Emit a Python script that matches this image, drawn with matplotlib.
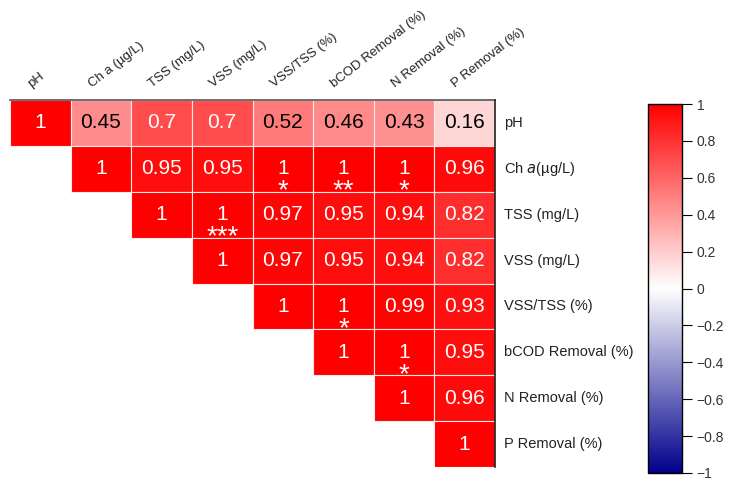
import numpy as np
import matplotlib.pyplot as plt
from matplotlib.colors import LinearSegmentedColormap, Normalize
from matplotlib.patches import Rectangle
import matplotlib.cm as cm

plt.rcParams['font.family'] = ['Liberation Sans', 'DejaVu Sans']

labels = ['pH', 'Ch a (µg/L)', 'TSS (mg/L)', 'VSS (mg/L)', 'VSS/TSS (%)',
          'bCOD Removal (%)', 'N Removal (%)', 'P Removal (%)']
row_labels = ['pH', r'Ch $\it{a}$(µg/L)', 'TSS (mg/L)', 'VSS (mg/L)', 'VSS/TSS (%)',
              'bCOD Removal (%)', 'N Removal (%)', 'P Removal (%)']

# upper triangle, row by row (starting at the diagonal)
r_ph = [1, 0.45, 0.7, 0.7, 0.52, 0.46, 0.43, 0.16]
r_cha = [1, 0.95, 0.95, 1, 1, 1, 0.96]
r_tss = [1, 1, 0.97, 0.95, 0.94, 0.82]
r_vss = [1, 0.97, 0.95, 0.94, 0.82]
r_ratio = [1, 1, 0.99, 0.93]
r_bcod = [1, 1, 0.95]
r_n = [1, 0.96]
r_p = [1]
rows = [r_ph, r_cha, r_tss, r_vss, r_ratio, r_bcod, r_n, r_p]

# significance marks (row, col) -> stars
stars = {(1, 4): '*', (1, 5): '**', (1, 6): '*', (2, 3): '***',
         (4, 5): '*', (5, 6): '*'}

n = len(labels)
cmap = LinearSegmentedColormap.from_list('bwr2', ['#00008B', '#ffffff', '#ff0000'])
norm = Normalize(-1, 1)

fig = plt.figure(figsize=(7.29, 4.84), dpi=100)
ax = fig.add_axes([10/729, 1-467/484, 485/729, 367/484])
ax.set_xlim(0, n)
ax.set_ylim(n, 0)
ax.axis('off')

for i, r in enumerate(rows):
    for k, v in enumerate(r):
        j = i + k
        ax.add_patch(Rectangle((j, i), 1, 1, facecolor=cmap(norm(v)),
                               edgecolor='#f6eaea', lw=0.8))
        col = 'white' if v > 0.6 else 'black'
        ax.text(j + 0.5, i + 0.5, '%g' % v, ha='center', va='center',
                fontsize=15, color=col)
        if (i, j) in stars:
            ax.text(j + 0.5, i + 0.99, stars[(i, j)], ha='center', va='center',
                    fontsize=20, color=col)
    ax.text(n + 0.15, i + 0.5, row_labels[i], ha='left', va='center', fontsize=10.5,
            color='#222222')

ax.plot([0, n], [0, 0], color='#555555', lw=1.2, clip_on=False)
ax.plot([n, n], [0, n], color='#222222', lw=1.2, clip_on=False)

for j, lab in enumerate(labels):
    ax.text(j + 0.35, -0.26, lab, ha='left', va='baseline', rotation=38,
            rotation_mode='anchor', fontsize=9.5, color='#222222')

cax = fig.add_axes([648/729, 1-473/484, 34/729, 369/484])
cb = fig.colorbar(cm.ScalarMappable(norm=norm, cmap=cmap), cax=cax,
                  ticks=np.arange(-1, 1.01, 0.2))
cb.ax.set_yticklabels(['\u22121', '\u22120.8', '\u22120.6', '\u22120.4', '\u22120.2',
                       '0', '0.2', '0.4', '0.6', '0.8', '1'])
cb.ax.tick_params(length=7, labelsize=10, labelcolor='#333333', width=0.8)
cb.outline.set_linewidth(1)

fig.savefig('out.png', dpi=100)
